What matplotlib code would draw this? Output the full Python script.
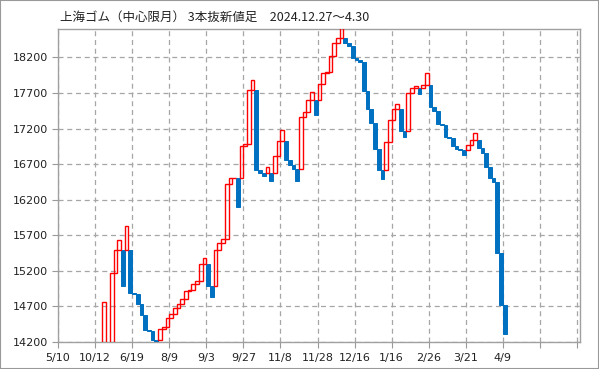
import numpy as np
import matplotlib
matplotlib.use("Agg")
import matplotlib.pyplot as plt
from matplotlib.patches import Rectangle

plt.rcParams['font.family'] = ['Noto Sans CJK JP', 'DejaVu Sans']

# 3本新値足: each line goes from open to close, one slot per line
first_slot = 12
opens = [
    14000, 14000, 14000, 15170, 15500, 15500, 15500, 15500, 14890, 14870,
    14740, 14580, 14370, 14350, 14230, 14230, 14385, 14410, 14540, 14600,
    14675, 14740, 14806, 14910, 14937, 15012, 15064, 15303, 15303, 14985,
    14985, 15497, 15585, 15650, 16424, 16500, 16500, 16500, 16960, 16988,
    17746, 17746, 16613, 16573, 16573, 16573, 16573, 16818, 17025, 17025,
    16756, 16691, 16635, 16635, 17365, 17433, 17600, 17600, 17600, 17826,
    17983, 18002, 18214, 18409, 18468, 18468, 18402, 18354, 18195, 18168,
    18135, 17732, 17470, 17279, 16910, 16618, 16618, 17012, 17325, 17478,
    17478, 17172, 17172, 17700, 17775, 17775, 17775, 17816, 17816, 17503,
    17447, 17259, 17250, 17082, 17063, 16951, 16914, 16894, 16894, 16970,
    17035, 17035, 16932, 16857, 16660, 16510, 16454, 15452, 14726,
]
closes = [
    14760, 13800, 15170, 15500, 15630, 14990, 15830, 14890, 14870, 14740,
    14580, 14370, 14350, 14230, 14205, 14385, 14410, 14540, 14600, 14675,
    14740, 14806, 14910, 14937, 15012, 15064, 15303, 15380, 14985, 14830,
    15497, 15585, 15650, 16424, 16500, 16506, 16099, 16960, 16988, 17746,
    17887, 16613, 16573, 16527, 16658, 16459, 16818, 17025, 17180, 16756,
    16691, 16635, 16459, 17365, 17433, 17600, 17714, 17386, 17826, 17983,
    18002, 18214, 18409, 18468, 18700, 18402, 18354, 18195, 18168, 18135,
    17732, 17470, 17279, 16910, 16618, 16487, 17012, 17325, 17478, 17545,
    17172, 17080, 17700, 17775, 17800, 17681, 17816, 17981, 17503, 17447,
    17259, 17250, 17082, 17063, 16951, 16914, 16894, 16829, 16970, 17035,
    17138, 16932, 16857, 16660, 16510, 16454, 15452, 14726, 14318,
]
tick_labels = ["5/10", "10/12", "6/19", "8/9", "9/3", "9/27", "11/8", "11/28",
               "12/16", "1/16", "2/26", "3/21", "4/9", "", ""]
y_ticks = [14200, 14700, 15200, 15700, 16200, 16700, 17200, 17700, 18200]
title = "上海ゴム（中心限月） 3本抜新値足　2024.12.27〜4.30"

opens = np.array(opens)
closes = np.array(closes)
x = first_slot + np.arange(len(opens))
up = closes > opens

fig = plt.figure(figsize=(5.99, 3.69), dpi=100)
ax = fig.add_axes([58 / 599, 27 / 369, 522 / 599, 313 / 369])

blue = "#0070c0"
ax.bar(x[~up], (opens - closes)[~up], bottom=closes[~up], width=1, align="edge",
       color=blue, edgecolor=blue, linewidth=0.7, zorder=3)
ax.bar(x[up], (closes - opens)[up], bottom=opens[up], width=1, align="edge",
       fill=False, edgecolor="#ff0000", linewidth=1.0, zorder=4)

ax.set_xlim(0, 140.8)
ax.set_ylim(14200, 18600)
ax.set_xticks(np.arange(0, 150, 10))
ax.set_xticklabels(tick_labels)
ax.set_yticks(y_ticks)
ax.tick_params(labelsize=8, colors="#222222", length=4, width=0.8)
ax.tick_params(axis="x", pad=4)
for lbl in ax.get_xticklabels() + ax.get_yticklabels():
    lbl.set_family("DejaVu Sans")
ax.tick_params(color="#999999")

ax.grid(True, color="#a6a6a6", linestyle=(0, (4, 3)), linewidth=0.9, zorder=0)
ax.set_axisbelow(True)
for s in ax.spines.values():
    s.set_color("#a0a0a0")
    s.set_linewidth(1.0)

fig.text(60 / 599, 1 - 17 / 369, title, fontsize=9, color="#222222",
         va="center", ha="left")

fig.patches.append(Rectangle((0, 0), 1, 1, transform=fig.transFigure,
                             fill=False, edgecolor="#999999", linewidth=1.5))

fig.savefig("out.png", dpi=100)
